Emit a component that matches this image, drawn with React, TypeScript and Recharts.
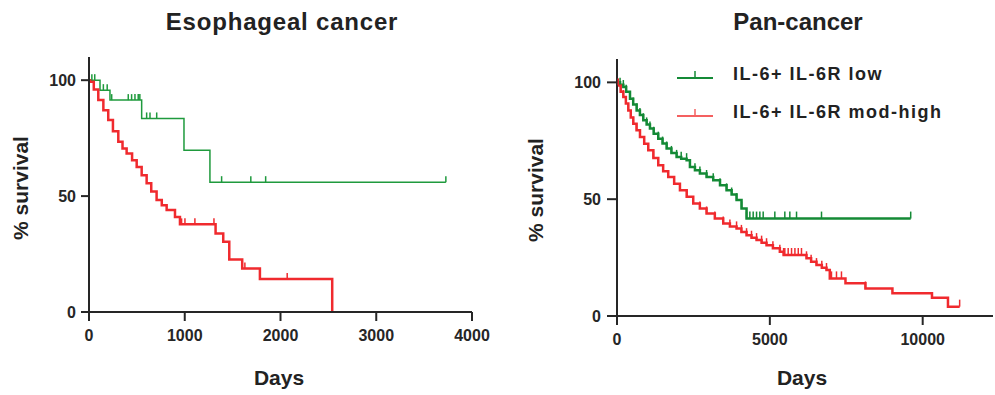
import { LineChart, Line, XAxis, YAxis } from "recharts"

// Esophageal cancer, IL-6 + IL-6R low
const escLowDays = [0, 30, 60, 115, 150, 190, 219, 237, 410, 445, 480, 514, 531, 550, 602, 637, 707, 992, 1263, 1385, 1690, 1845, 3727]
const escLowSurv = [100, 100, 100, 95.7, 95.7, 95.7, 91.4, 91.4, 91.4, 91.4, 91.4, 91.4, 91.4, 83.5, 83.5, 83.5, 83.5, 69.8, 56.0, 56.0, 56.0, 56.0, 56.0]
const escLowCens = [0, 1, 1, 0, 1, 1, 0, 1, 1, 1, 1, 1, 1, 0, 1, 1, 1, 0, 0, 1, 1, 1, 1]

// Esophageal cancer, IL-6 + IL-6R mod-high
const escHighDays = [0, 10, 50, 97, 150, 201, 250, 306, 350, 393, 450, 498, 550, 602, 650, 706, 760, 811, 898, 950, 967, 1002, 1106, 1305, 1322, 1402, 1465, 1600, 1628, 1785, 2070, 2540]
const escHighSurv = [100, 99.3, 96, 91.4, 87, 82.8, 78, 73.4, 70.5, 68.4, 65.5, 62.6, 59, 55.5, 52, 48.3, 46, 44, 41, 37.8, 37.8, 37.8, 37.8, 37.8, 33.9, 30.3, 22.7, 18.8, 18.8, 14.2, 14.2, 0]
const escHighCens = [0, 0, 0, 0, 0, 0, 0, 0, 0, 0, 0, 0, 0, 0, 0, 0, 0, 0, 0, 0, 1, 1, 1, 1, 0, 0, 0, 0, 1, 0, 1, 0]

// Pan-cancer, IL-6 + IL-6R low
const panLowDays = [0, 100, 207, 300, 425, 530, 643, 750, 860, 970, 1078, 1200, 1350, 1490, 1624, 1780, 1950, 2100, 2277, 2386, 2550, 2712, 2930, 3148, 3370, 3584, 3750, 3911, 4074, 4238, 4346, 4455, 4565, 4673, 4782, 5163, 5490, 5654, 5873, 6690, 9608]
const panLowSurv = [100, 99, 98, 96, 93, 90.5, 88, 86, 83.8, 82, 80.2, 78, 75.9, 73.8, 71.7, 69.8, 68.1, 67.3, 66.7, 63.8, 62.4, 61, 59.5, 58.1, 56, 53.8, 52, 49.6, 46, 41.7, 41.7, 41.7, 41.7, 41.7, 41.7, 41.7, 41.7, 41.7, 41.7, 41.7, 41.7]
const panLowCens = [0, 1, 1, 1, 1, 1, 1, 1, 1, 1, 1, 1, 1, 1, 1, 1, 1, 1, 1, 1, 1, 1, 1, 1, 1, 1, 1, 1, 1, 1, 1, 1, 1, 1, 1, 1, 1, 1, 1, 1, 1]

// Pan-cancer, IL-6 + IL-6R mod-high
const panHighDays = [0, 42, 120, 207, 290, 370, 450, 533, 640, 752, 890, 1023, 1190, 1350, 1510, 1676, 1870, 2059, 2280, 2494, 2710, 2930, 3200, 3475, 3693, 3911, 4070, 4238, 4400, 4565, 4730, 4892, 5100, 5327, 5450, 5490, 5600, 5710, 5820, 5930, 6035, 6199, 6350, 6526, 6700, 6853, 6961, 7016, 7180, 7343, 7474, 8127, 9010, 10304, 10827, 11209]
const panHighSurv = [100, 98.7, 96, 93.7, 91, 88, 85, 82.3, 79.5, 76.6, 73.7, 70.9, 67.6, 64.5, 62, 59.5, 56.6, 53.8, 51, 48.2, 46, 43.9, 41.7, 39.6, 38.3, 37.5, 36, 34.6, 33.5, 32.5, 31.4, 30.3, 29, 27.5, 26.1, 26.1, 26.1, 26.1, 26.1, 26.1, 26.1, 24.7, 23.2, 21.8, 20.7, 19.7, 16.1, 16.1, 16.1, 16.1, 14.0, 11.8, 9.7, 7.8, 4.0, 4.0]
const panHighCens = [0, 1, 1, 1, 1, 1, 1, 1, 1, 1, 1, 1, 1, 1, 1, 1, 1, 1, 1, 1, 1, 1, 1, 1, 1, 1, 1, 1, 1, 1, 1, 1, 1, 1, 1, 1, 1, 1, 1, 1, 1, 1, 1, 1, 1, 1, 0, 1, 1, 1, 0, 1, 0, 0, 1, 1]

const escTicks = [0, 1000, 2000, 3000, 4000]
const panTicks = [0, 5000, 10000]
const survTicks = [0, 50, 100]
const legendNames = ["IL-6+ IL-6R low", "IL-6+ IL-6R mod-high"]

const FONT = '"Liberation Sans", Arial, sans-serif'
const GREEN = "#1f9a3d"
const DARK_GREEN = "#148a36"
const RED = "#f02a2e"
const AXIS = "#262626"

function rows(days: number[], surv: number[], cens: number[]) {
  return days.map((d, i) => ({ day: d, surv: surv[i], cens: cens[i] }))
}

// vertical tick on censored observations
function censorDot(color: string, len: number) {
  return (props: any) => {
    const { cx, cy, payload, index } = props
    if (!payload || !payload.cens || cx == null || cy == null) return <g key={`n-${index}`} />
    return <line key={`c-${index}`} x1={cx} x2={cx} y1={cy} y2={cy - len} stroke={color} strokeWidth={1.5} />
  }
}

const tickStyle = { fill: AXIS, fontSize: 16, fontWeight: 700, fontFamily: FONT }

const label: React.CSSProperties = {
  position: "absolute",
  transform: "translate(-50%, -50%)",
  fontFamily: FONT,
  fontWeight: 700,
  color: "#222",
  whiteSpace: "nowrap",
}

export default function App() {
  return (
    <div style={{ position: "absolute", left: 0, top: 0, width: 995, height: 395, background: "#fff", overflow: "hidden" }}>
      <div style={{ ...label, left: 282, top: 22, fontSize: 24, letterSpacing: 0.8 }}>Esophageal cancer</div>
      <div style={{ ...label, left: 798, top: 22, fontSize: 24 }}>Pan-cancer</div>
      <div style={{ ...label, left: 279, top: 378, fontSize: 21 }}>Days</div>
      <div style={{ ...label, left: 802, top: 378, fontSize: 21 }}>Days</div>
      <div style={{ ...label, left: 21, top: 188, fontSize: 21, transform: "translate(-50%, -50%) rotate(-90deg)" }}>% survival</div>
      <div style={{ ...label, left: 536, top: 190, fontSize: 21, transform: "translate(-50%, -50%) rotate(-90deg)" }}>% survival</div>

      <div style={{ position: "absolute", left: 0, top: 0 }}>
        <LineChart width={500} height={395} margin={{ top: 57, right: 28, bottom: 53, left: 29 }}>
          <XAxis
            dataKey="day"
            type="number"
            domain={[0, 4000]}
            ticks={escTicks}
            height={30}
            tick={tickStyle}
            axisLine={{ stroke: AXIS, strokeWidth: 2 }}
            tickLine={{ stroke: AXIS, strokeWidth: 2 }}
            tickSize={9}
            tickMargin={9}
          />
          <YAxis
            type="number"
            domain={[0, 110]}
            ticks={survTicks}
            width={60}
            tick={tickStyle}
            axisLine={{ stroke: AXIS, strokeWidth: 2 }}
            tickLine={{ stroke: AXIS, strokeWidth: 2 }}
            tickSize={8}
            tickMargin={5}
          />
          <Line data={rows(escLowDays, escLowSurv, escLowCens)} dataKey="surv" type="stepAfter" stroke={GREEN} strokeWidth={1.5} dot={censorDot(GREEN, 6)} activeDot={false} isAnimationActive={false} />
          <Line data={rows(escHighDays, escHighSurv, escHighCens)} dataKey="surv" type="stepAfter" stroke={RED} strokeWidth={2.5} dot={censorDot(RED, 6)} activeDot={false} isAnimationActive={false} />
        </LineChart>
      </div>

      <div style={{ position: "absolute", left: 500, top: 0 }}>
        <LineChart width={495} height={395} margin={{ top: 59, right: 2, bottom: 49, left: 57 }}>
          <XAxis
            dataKey="day"
            type="number"
            domain={[0, 12300]}
            ticks={panTicks}
            height={30}
            tick={tickStyle}
            axisLine={{ stroke: AXIS, strokeWidth: 2 }}
            tickLine={{ stroke: AXIS, strokeWidth: 2 }}
            tickSize={9}
            tickMargin={9}
          />
          <YAxis
            type="number"
            domain={[0, 110]}
            ticks={survTicks}
            width={60}
            tick={tickStyle}
            axisLine={{ stroke: AXIS, strokeWidth: 2 }}
            tickLine={{ stroke: AXIS, strokeWidth: 2 }}
            tickSize={10}
            tickMargin={6}
          />
          <Line data={rows(panLowDays, panLowSurv, panLowCens)} dataKey="surv" type="stepAfter" stroke={DARK_GREEN} strokeWidth={2.5} dot={censorDot(DARK_GREEN, 7)} activeDot={false} isAnimationActive={false} />
          <Line data={rows(panHighDays, panHighSurv, panHighCens)} dataKey="surv" type="stepAfter" stroke={RED} strokeWidth={2.5} dot={censorDot(RED, 7)} activeDot={false} isAnimationActive={false} />
        </LineChart>
      </div>

      {legendNames.map((name, i) => (
        <div key={name} style={{ position: "absolute", left: 677, top: 64 + i * 38, height: 20, display: "flex", alignItems: "center" }}>
          <svg width={36} height={20}>
            <line x1={0} x2={36} y1={14} y2={14} stroke={i === 0 ? DARK_GREEN : "#f46060"} strokeWidth={2} />
            <line x1={18} x2={18} y1={14} y2={7} stroke={i === 0 ? DARK_GREEN : "#f46060"} strokeWidth={1.5} />
          </svg>
          <span style={{ marginLeft: 20, fontFamily: FONT, fontWeight: 700, fontSize: 18, letterSpacing: 1.5, color: "#222" }}>{name}</span>
        </div>
      ))}
    </div>
  )
}
